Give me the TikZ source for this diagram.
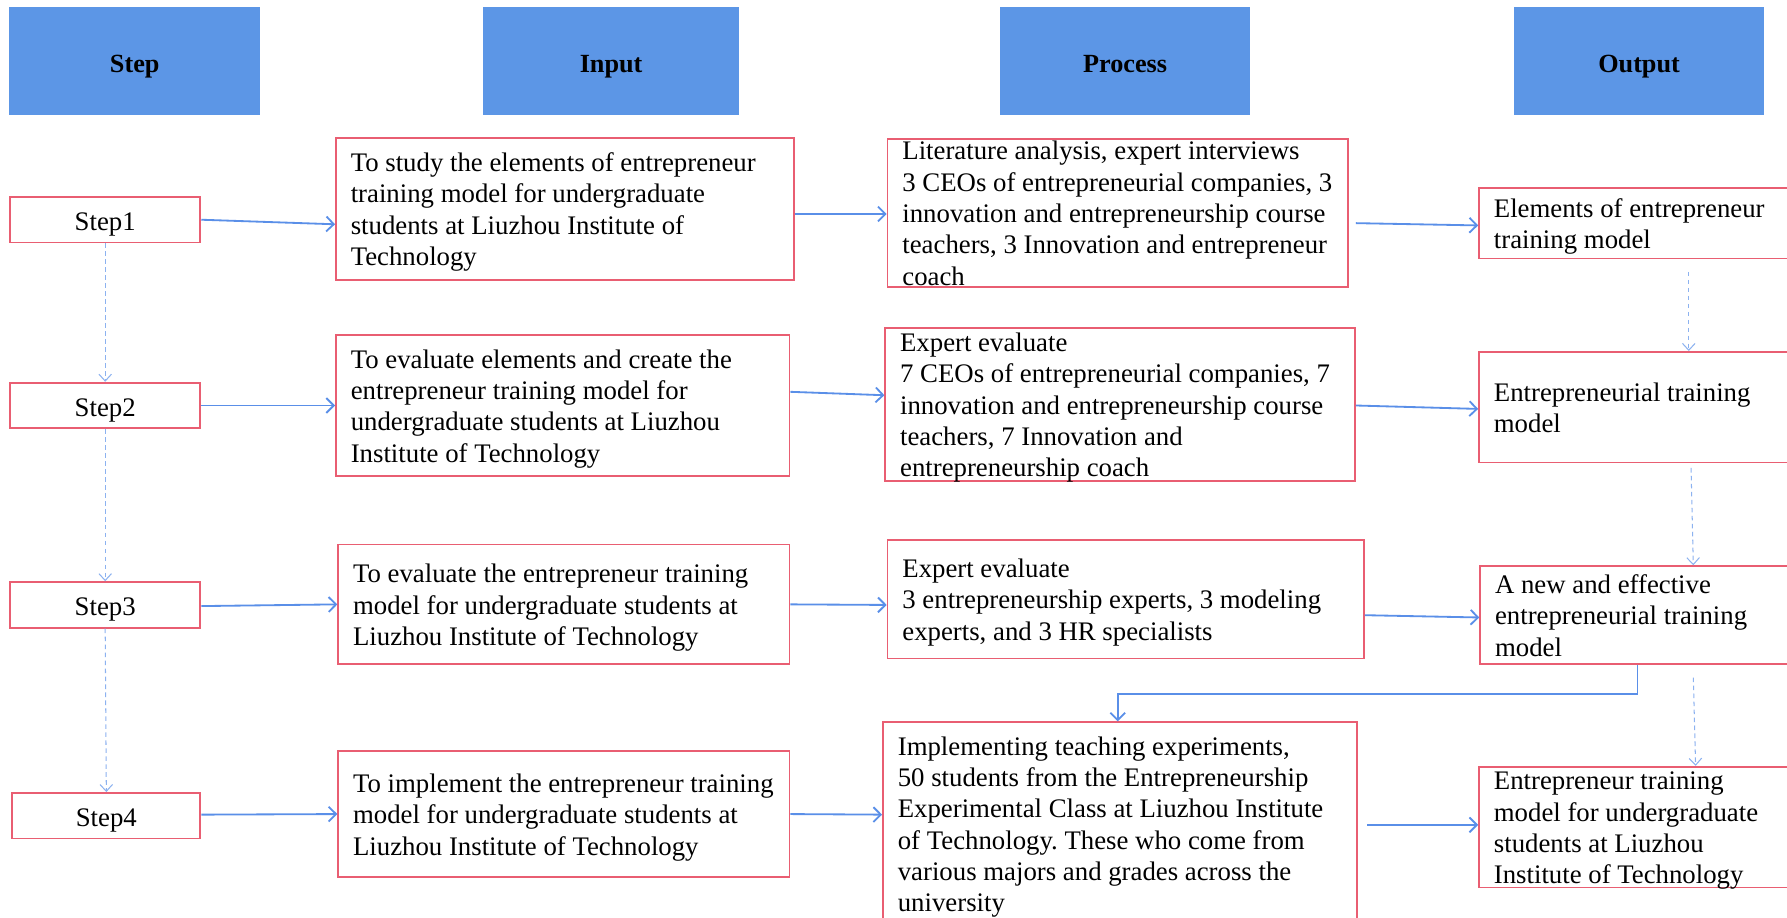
\documentclass[tikz,border=0pt]{standalone}
\usepackage{fontspec}
\setmainfont{Liberation Serif}
\usetikzlibrary{arrows.meta}
\definecolor{headblue}{RGB}{92,150,230}
\definecolor{boxred}{RGB}{233,94,114}
\definecolor{arrblue}{RGB}{90,143,232}
\definecolor{dashblue}{RGB}{140,178,240}
\frenchspacing
\newcommand\btext[2]{\vbox to 0pt{\vss\kern6pt\hbox to #1{\begin{tabular}{@{}l@{}}#2\end{tabular}\hss}\vss}}
\begin{document}
\begin{tikzpicture}[x=1pt,y=-1pt,
  hdr/.style={fill=headblue, anchor=north west, inner sep=0pt, minimum height=95pt, text height=24pt, text depth=4pt, font=\fontsize{23}{27}\selectfont\bfseries},
  bx/.style={draw=boxred, line width=1.6pt, fill=white, anchor=north west, inner xsep=13pt, inner ysep=0pt, font=\fontsize{23.5}{27.5}\selectfont},
  stepbox/.style={bx, inner xsep=0pt, minimum width=167pt, minimum height=40pt, text height=21pt, text depth=2pt},
  arr/.style={arrblue, line width=1.6pt, -{Straight Barb[length=6.5pt,width=13pt]}},
  darr/.style={dashblue, line width=0.9pt, dash pattern=on 4pt off 3pt, -{Straight Barb[length=6pt,width=11pt]}}]
\useasboundingbox (0,0) rectangle (1568,805);
\clip (0,0) rectangle (1568,805);
\fill[white] (0,0) rectangle (1568,805);

% headers
\node[hdr, minimum width=220pt] (hstep) at (8,6) {Step};
\node[hdr, minimum width=224pt] (hin) at (424,6) {Input};
\node[hdr, minimum width=220pt] (hproc) at (877,6) {Process};
\node[hdr, minimum width=220pt] (hout) at (1328,6) {Output};

% steps
\node[stepbox] (s1) at (8,172) {Step1};
\node[stepbox] (s2) at (8,335) {Step2};
\node[stepbox] (s3) at (8,510) {Step3};
\node[stepbox, minimum width=165pt] (s4) at (10,695) {Step4};

% inputs
\node[bx, minimum width=402pt, minimum height=125pt] (in1) at (294,120)
  {\btext{376pt}{To study the elements of entrepreneur\\training model for undergraduate\\students at Liuzhou Institute of\\Technology}};
\node[bx, minimum width=398pt, minimum height=124pt] (in2) at (294,293)
  {\btext{372pt}{To evaluate elements and create the\\entrepreneur training model for\\undergraduate students at Liuzhou\\Institute of Technology}};
\node[bx, minimum width=396pt, minimum height=105pt] (in3) at (296,477)
  {\btext{370pt}{To evaluate the entrepreneur training\\model for undergraduate students at\\Liuzhou Institute of Technology}};
\node[bx, minimum width=396pt, minimum height=111pt] (in4) at (296,658)
  {\btext{370pt}{To implement the entrepreneur training\\model for undergraduate students at\\Liuzhou Institute of Technology}};

% processes
\node[bx, minimum width=404pt, minimum height=130pt] (p1) at (778,121)
  {\btext{378pt}{Literature analysis, expert interviews\\3 CEOs of entrepreneurial companies, 3\\innovation and entrepreneurship course\\teachers, 3 Innovation and entrepreneur\\coach}};
\node[bx, minimum width=412pt, minimum height=134pt] (p2) at (776,287)
  {\btext{386pt}{Expert evaluate\\7 CEOs of entrepreneurial companies, 7\\innovation and entrepreneurship course\\teachers, 7 Innovation and\\entrepreneurship coach}};
\node[bx, minimum width=418pt, minimum height=104pt] (p3) at (778,473)
  {\btext{392pt}{Expert evaluate\\3 entrepreneurship experts, 3 modeling\\experts, and 3 HR specialists}};
\node[bx, minimum width=416pt, minimum height=178pt] (p4) at (774,633)
  {\btext{390pt}{Implementing teaching experiments,\\50 students from the Entrepreneurship\\Experimental Class at Liuzhou Institute\\of Technology. These who come from\\various majors and grades across the\\university}};

% outputs
\node[bx, minimum width=320pt, minimum height=62pt] (o1) at (1297,164)
  {\btext{294pt}{Elements of entrepreneur\\training model}};
\node[bx, minimum width=320pt, minimum height=97pt] (o2) at (1297,308)
  {\btext{294pt}{Entrepreneurial training\\model}};
\node[bx, minimum width=320pt, minimum height=86pt] (o3) at (1298,496)
  {\btext{294pt}{A new and effective\\entrepreneurial training\\model}};
\node[bx, minimum width=320pt, minimum height=106pt] (o4) at (1297,672)
  {\btext{294pt}{Entrepreneur training\\model for undergraduate\\students at Liuzhou\\Institute of Technology}};

% solid connectors
\draw[arr] (s1.east) -- ([yshift=-13.5pt]in1.west);
\draw[arr] ([yshift=-4.5pt]in1.east) -- ([yshift=-1pt]p1.west);
\draw[arr] ([xshift=6pt,yshift=-9pt]p1.east) -- ([yshift=-2pt]o1.west);
\draw[arr] (s2.east) -- (in2.west);
\draw[arr] ([yshift=12pt]in2.east) -- ([yshift=8pt]p2.west);
\draw[arr] ([yshift=-1pt]p2.east) -- ([yshift=-1.5pt]o2.west);
\draw[arr] ([yshift=-1pt]s3.east) -- (in3.west);
\draw[arr] (in3.east) -- ([yshift=-5pt]p3.west);
\draw[arr] ([yshift=-14pt]p3.east) -- ([yshift=-2pt]o3.west);
\draw[arr] ([yshift=1pt]s4.east) -- (in4.west);
\draw[arr] (in4.east) -- ([yshift=8pt]p4.west);
\draw[arr] ([xshift=8pt,yshift=-1pt]p4.east) -- ([yshift=2pt]o4.west);
\draw[arr] ([xshift=-22pt]o3.south) -- ++(0,25) -| ([xshift=-2pt]p4.north);

% dashed connectors
\draw[darr] (s1.south) -- (s2.north);
\draw[darr] (s2.south) -- (s3.north);
\draw[darr] (s3.south) -- (s4.north);
\draw[darr] ([xshift=24pt,yshift=-11pt]o1.south) -- ([xshift=24pt]o2.north);
\draw[darr] ([xshift=26pt,yshift=-4pt]o2.south) -- ([xshift=27pt]o3.north);
\draw[darr] ([xshift=27pt,yshift=-11pt]o3.south) -- ([xshift=30pt]o4.north);
\end{tikzpicture}
\end{document}
